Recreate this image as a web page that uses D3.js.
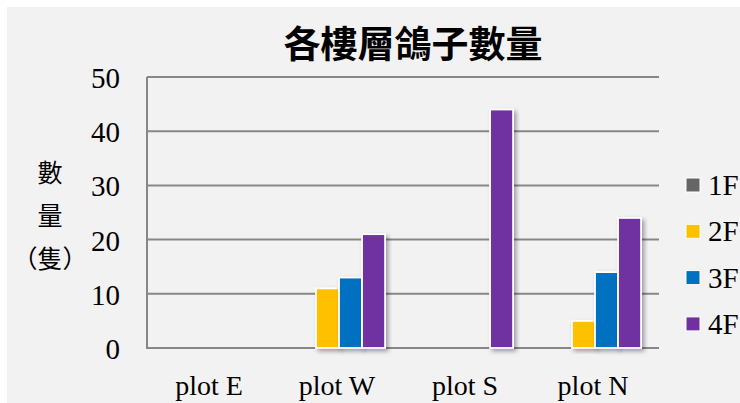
<!DOCTYPE html>
<html><head><meta charset="utf-8">
<script src="https://cdn.jsdelivr.net/npm/d3@7"></script>
<style>
html,body{margin:0;padding:0;background:#fff;}
svg{display:block;}
</style></head>
<body>
<script>
const categories = ["plot E", "plot W", "plot S", "plot N"];
const seriesNames = ["1F", "2F", "3F", "4F"];
const values1F = [null, 0, null, null];
const values2F = [null, 11, null, 5];
const values3F = [null, 13, null, 14];
const values4F = [null, 21, 44, 24];
const seriesColors = ["#666666", "#FFC000", "#0070C0", "#7030A0"];
const yTicks = [0, 10, 20, 30, 40, 50];
const chartTitle = "各樓層鴿子數量";
const yTitleLines = ["數", "量", "（隻）"];

(function () {
const W = 740, H = 403;
const serif = "'Liberation Serif','Times New Roman',serif";
const cjk = "'Noto Sans CJK TC','Noto Sans CJK SC',sans-serif";

const svg = d3.select("body").append("svg").attr("width", W).attr("height", H);
const defs = svg.append("defs");
const f = defs.append("filter").attr("id", "sh").attr("x", "-30%").attr("y", "-10%").attr("width", "160%").attr("height", "130%");
f.append("feDropShadow").attr("dx", 2.5).attr("dy", 2.5).attr("stdDeviation", 2).attr("flood-color", "#000").attr("flood-opacity", 0.35);

svg.append("rect").attr("x", 7).attr("y", 7).attr("width", W - 7).attr("height", H - 7).attr("fill", "#f2f2f2");

const pLeft = 147, pRight = 659, pTop = 77, pBottom = 348;
const y = d3.scaleLinear().domain([0, 50]).range([pBottom, pTop]);
const x0 = d3.scaleBand().domain(categories).range([pLeft, pRight]).paddingInner(0.28).paddingOuter(0.14);
const x1 = d3.scaleBand().domain(seriesNames).range([0, x0.bandwidth()]).padding(0);

svg.append("g").selectAll("line").data(yTicks).join("line")
  .attr("x1", pLeft).attr("x2", pRight)
  .attr("y1", d => y(d)).attr("y2", d => y(d))
  .attr("stroke", "#878787").attr("stroke-width", 2);
svg.append("line").attr("x1", pLeft).attr("x2", pLeft).attr("y1", pTop).attr("y2", pBottom + 1)
  .attr("stroke", "#878787").attr("stroke-width", 2);

svg.append("g").selectAll("text").data(yTicks).join("text")
  .attr("x", 120).attr("y", d => y(d) + 11)
  .attr("text-anchor", "end").attr("font-family", serif).attr("font-size", 29).attr("fill", "#000")
  .text(d => d);

const allVals = [values1F, values2F, values3F, values4F];
const barData = [];
categories.forEach((c, i) => {
  seriesNames.forEach((s, j) => {
    const v = allVals[j][i];
    if (v !== null) barData.push({c, s, v, color: seriesColors[j]});
  });
});
svg.append("g").selectAll("rect").data(barData).join("rect")
  .attr("x", d => x0(d.c) + x1(d.s))
  .attr("y", d => y(d.v))
  .attr("width", x1.bandwidth())
  .attr("height", d => Math.max(0, pBottom - y(d.v)))
  .attr("fill", d => d.color)
  .attr("stroke", "#fff").attr("stroke-width", 1.8)
  .attr("filter", "url(#sh)");

svg.append("g").selectAll("text").data(categories).join("text")
  .attr("x", d => x0(d) + x0.bandwidth() / 2 - 2).attr("y", 395)
  .attr("text-anchor", "middle").attr("font-family", serif).attr("font-size", 28).attr("fill", "#000")
  .text(d => d);

svg.append("text").attr("x", 413).attr("y", 58).attr("text-anchor", "middle")
  .attr("font-family", cjk).attr("font-weight", "bold").attr("font-size", 37).attr("fill", "#000")
  .text(chartTitle);

svg.append("g").selectAll("text").data(yTitleLines).join("text")
  .attr("x", 50).attr("y", (d, i) => 182 + i * 43)
  .attr("text-anchor", "middle").attr("font-family", cjk).attr("font-size", 25).attr("fill", "#000")
  .text(d => d);

const lg = svg.append("g").selectAll("g").data(seriesNames).join("g")
  .attr("transform", (d, i) => `translate(686, ${185 + i * 46.3})`);
lg.append("rect").attr("x", 0).attr("y", -7).attr("width", 14).attr("height", 14)
  .attr("fill", (d, i) => seriesColors[i]).attr("stroke", "#fff").attr("stroke-width", 1);
lg.append("text").attr("x", 22).attr("y", 10).attr("font-family", serif).attr("font-size", 29).attr("fill", "#000")
  .text(d => d);
})();
</script>
</body></html>
